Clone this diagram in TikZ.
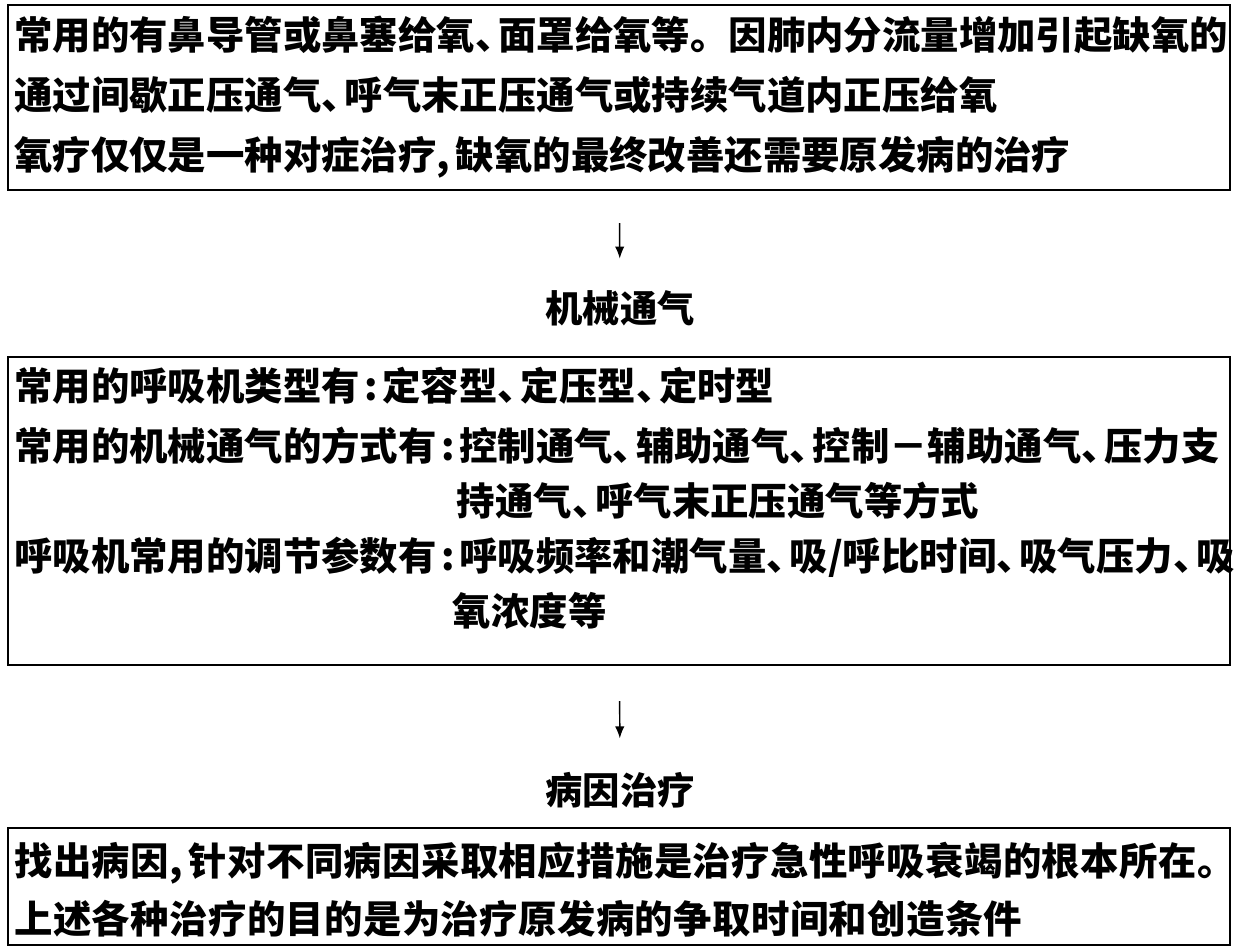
\documentclass[tikz,border=0pt]{standalone}
\usepackage{fontspec}
\setmainfont{Noto Sans CJK SC}
\usetikzlibrary{arrows.meta}
\newcommand{\dunhao}{、\kern-.4em}
\newcommand{\maohao}{\kern.12em:\kern.12em}
\newcommand{\douhao}{,\kern.15em}
\begin{document}
\begin{tikzpicture}[x=0.75pt,y=-0.75pt,
	box/.style={draw,line width=1.7pt,minimum width=916.5pt,text width=907pt,inner xsep=4.5pt,inner ysep=0pt,align=left},
	lbl/.style={inner sep=0pt,font=\fontsize{28}{34}\selectfont\bfseries},
	flow/.style={line width=1.1pt,-{Latex[length=9pt,width=7pt]}}]
	\useasboundingbox (0,0) rectangle (1240,952);
	\node[box,minimum height=138.75pt,font=\fontsize{28.8}{45}\selectfont\bfseries] (ox) at (619,97.5) {常用的有鼻导管或鼻塞给氧\dunhao 面罩给氧等。因肺内分流量增加引起缺氧的\\通过间歇正压通气\dunhao 呼气末正压通气或持续气道内正压给氧\\氧疗仅仅是一种对症治疗\douhao 缺氧的最终改善还需要原发病的治疗};
	\node[lbl] (mv) at (620,308) {机械通气};
	\node[box,minimum height=231pt,font=\fontsize{28.8}{41.25}\selectfont\bfseries] (vent) at (619,511) {常用的呼吸机类型有\maohao 定容型\dunhao 定压型\dunhao 定时型\\[3.75pt]常用的机械通气的方式有\maohao 控制通气\dunhao 辅助通气\dunhao 控制－辅助通气\dunhao 压力支\\\hspace*{332pt}持通气\dunhao 呼气末正压通气等方式\\呼吸机常用的调节参数有\maohao 呼吸频率和潮气量\dunhao 吸/呼比时间\dunhao 吸气压力\dunhao 吸\\\hspace*{329pt}氧浓度等\rule[-22pt]{0pt}{22pt}};
	\node[lbl] (ct) at (620,790) {病因治疗};
	\node[box,minimum height=87.75pt,font=\fontsize{28.8}{43.5}\selectfont\bfseries\addfontfeature{LetterSpace=1}] (cause) at (619,886.5) {\rule{0pt}{30pt}找出病因\douhao 针对不同病因采取相应措施是治疗急性呼吸衰竭的根本所在。\\上述各种治疗的目的是为治疗原发病的争取时间和创造条件};
	\draw[flow,shorten <=24pt,shorten >=23.5pt] (ox) -- (mv);
	\draw[flow,shorten <=26.25pt,shorten >=25pt] (vent) -- (ct);
\end{tikzpicture}
\end{document}
